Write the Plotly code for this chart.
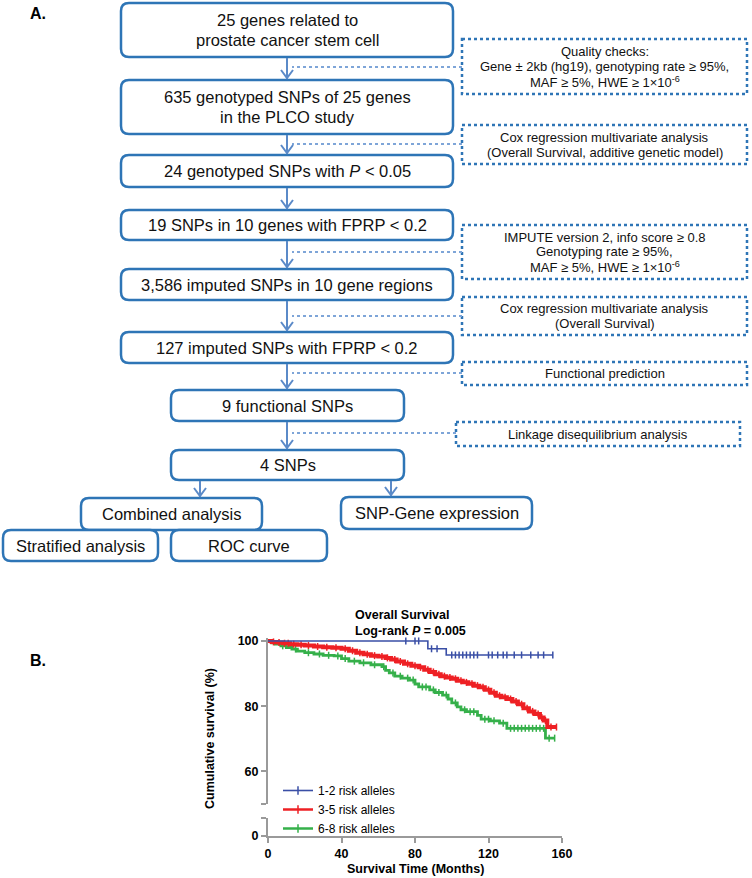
import plotly.graph_objects as go

# ---------------- DATA ----------------
box_labels = [
    "25 genes related to<br>prostate cancer stem cell",
    "635 genotyped SNPs of 25 genes<br>in the PLCO study",
    "24 genotyped SNPs with <i>P</i> < 0.05",
    "19 SNPs in 10 genes with FPRP < 0.2",
    "3,586 imputed SNPs in 10 gene regions",
    "127 imputed SNPs with FPRP < 0.2",
    "9 functional SNPs",
    "4 SNPs",
    "Combined analysis",
    "SNP-Gene expression",
    "Stratified analysis",
    "ROC curve",
]
filter_labels = [
    "Quality checks:<br>Gene ± 2kb (hg19), genotyping rate ≥ 95%,<br>MAF ≥ 5%, HWE ≥ 1×10<sup>-6</sup>",
    "Cox regression multivariate analysis<br>(Overall Survival, additive genetic model)",
    "IMPUTE version 2, info score ≥ 0.8<br>Genotyping rate ≥ 95%,<br>MAF ≥ 5%, HWE ≥ 1×10<sup>-6</sup>",
    "Cox regression multivariate analysis<br>(Overall Survival)",
    "Functional prediction",
    "Linkage disequilibrium analysis",
]

group_names = ["1-2 risk alleles", "3-5 risk alleles", "6-8 risk alleles"]

# Kaplan-Meier step events (months, survival %)
blue_time = [0, 87, 97]
blue_surv = [100, 97.6, 95.7]
blue_censor = [75, 80, 82, 89, 92, 100, 102, 104, 106, 108, 110, 112, 114,
               120, 122, 125, 128, 130, 134, 138, 143, 147, 150, 155]

red_time = [0, 2, 5, 8, 12, 16, 20, 25, 30, 35, 40, 44, 48, 52, 56, 60, 64, 67,
            70, 74, 78, 82, 85, 88, 91, 94, 97, 100, 103, 106, 109, 112, 115,
            118, 121, 124, 127, 130, 133, 136, 139, 142, 145, 148, 150, 152]
red_surv = [100, 99.7, 99.5, 99.3, 99.0, 98.8, 98.6, 98.3, 98.1, 97.9, 97.6,
            97.0, 96.4, 95.9, 95.5, 95.2, 94.8, 94.3, 93.7, 93.0, 92.4, 91.9,
            91.2, 90.5, 89.8, 89.2, 88.8, 88.4, 87.8, 87.3, 86.9, 86.3, 85.8,
            85.0, 84.1, 83.2, 82.7, 82.2, 81.4, 80.6, 79.4, 78.4, 77.6, 76.5,
            75.6, 73.6]
red_censor = [3, 6, 9, 11, 14, 18, 22, 27, 32, 37, 42, 46, 50, 54, 58, 62, 65,
              69, 72, 76, 80, 83, 87, 90, 93, 96, 99, 102, 105, 108, 111, 114,
              117, 120, 123, 126, 129, 132, 135, 138, 141, 144, 147, 149, 151,
              154, 157]

green_time = [0, 2, 4, 7, 10, 13, 16, 20, 25, 30, 36, 40, 44, 50, 56, 62, 64,
              66, 69, 73, 77, 80, 82, 88, 91, 95, 98, 100, 103, 105, 108, 114,
              116, 121, 126, 130, 151]
green_surv = [100, 99.4, 99.0, 98.5, 98.0, 97.5, 96.9, 96.4, 96.0, 95.6, 95.4,
              94.6, 93.8, 93.3, 92.7, 92.1, 91.0, 90.2, 89.2, 88.6, 88.0, 86.8,
              85.9, 85.0, 84.2, 83.4, 82.2, 81.0, 79.8, 78.9, 78.3, 77.2, 76.0,
              75.5, 74.8, 73.2, 70.2]
green_censor = [8, 15, 22, 28, 33, 38, 42, 47, 52, 58, 63, 68, 72, 76, 79, 84,
                86, 90, 93, 97, 102, 107, 110, 112, 118, 120, 123, 128, 132,
                134, 136, 138, 140, 142, 144, 146, 148, 150, 153, 156]

x_ticks = [0, 40, 80, 120, 160]
y_ticks = [60, 80, 100]

# ---------------- LAYOUT GEOMETRY (pixels) ----------------
W, H = 752, 878
def X(p): return p / W
def Y(p): return 1 - p / H

box_geom = [
    (121, 3, 453, 57), (121, 80, 453, 134), (121, 155, 453, 187),
    (121, 210, 453, 240), (121, 269, 453, 300), (121, 332, 453, 363),
    (171, 390, 404, 421), (171, 450, 404, 480), (81, 498, 262, 530),
    (341, 497, 532, 529), (3, 530, 158, 561), (171, 530, 327, 561),
]
filter_geom = [
    (462, 39, 747, 94), (462, 125, 747, 164), (462, 225, 747, 279),
    (462, 297, 747, 335), (462, 362, 747, 385), (456, 422, 740, 446),
]
connector_y = [67, 144, 252, 316, 373, 433]
arrow_geom = [
    (287, 57, 80), (287, 134, 155), (287, 187, 210), (287, 240, 269),
    (287, 300, 332), (287, 363, 390), (287, 421, 450),
    (200, 480, 498), (391, 480, 497),
]

BOX_C = "#2e75b6"
ARROW_C = "#5b8ac8"
CONN_C = "#7ea5d8"
FONT = "Arial, Liberation Sans, sans-serif"

shapes = []
annotations = []

def rrect(x0, y0, x1, y1, r=8):
    pts = [
        ("M", [(x0 + r, y0)]), ("L", [(x1 - r, y0)]), ("Q", [(x1, y0), (x1, y0 + r)]),
        ("L", [(x1, y1 - r)]), ("Q", [(x1, y1), (x1 - r, y1)]), ("L", [(x0 + r, y1)]),
        ("Q", [(x0, y1), (x0, y1 - r)]), ("L", [(x0, y0 + r)]), ("Q", [(x0, y0), (x0 + r, y0)]),
    ]
    s = ""
    for cmd, ps in pts:
        s += cmd + " " + " ".join(f"{X(px):.5f},{Y(py):.5f}" for px, py in ps) + " "
    return s + "Z"

def text_lines(label, cx, cy, size, spacing):
    lines = label.split("<br>")
    n = len(lines)
    for i, ln in enumerate(lines):
        yy = cy + (i - (n - 1) / 2) * spacing
        annotations.append(dict(x=X(cx), y=Y(yy), xref="paper", yref="paper",
                                text=ln, showarrow=False, xanchor="center", yanchor="middle",
                                font=dict(family=FONT, size=size, color="#111")))

for (x0, y0, x1, y1), lab in zip(box_geom, box_labels):
    shapes.append(dict(type="path", path=rrect(x0, y0, x1, y1), xref="paper", yref="paper",
                       line=dict(color=BOX_C, width=2.5), fillcolor="white"))
    text_lines(lab, (x0 + x1) / 2, (y0 + y1) / 2, 16.5, 20)

for (x0, y0, x1, y1), lab, cy in zip(filter_geom, filter_labels, connector_y):
    shapes.append(dict(type="rect", x0=X(x0), x1=X(x1), y0=Y(y0), y1=Y(y1),
                       xref="paper", yref="paper",
                       line=dict(color=BOX_C, width=2.5, dash="dot"), fillcolor="rgba(0,0,0,0)"))
    text_lines(lab, (x0 + x1) / 2, (y0 + y1) / 2, 13, 15)
    shapes.append(dict(type="line", x0=X(x0), x1=X(292), y0=Y(cy), y1=Y(cy),
                       xref="paper", yref="paper",
                       line=dict(color=CONN_C, width=2, dash="dot")))

for ax, ya, yb in arrow_geom:
    shapes.append(dict(type="line", x0=X(ax), x1=X(ax), y0=Y(ya + 1), y1=Y(yb - 1),
                       xref="paper", yref="paper", line=dict(color=ARROW_C, width=2)))
    shapes.append(dict(type="path", xref="paper", yref="paper",
                       path=f"M {X(ax-6):.5f},{Y(yb-10):.5f} L {X(ax):.5f},{Y(yb-2):.5f} L {X(ax+6):.5f},{Y(yb-10):.5f}",
                       line=dict(color=ARROW_C, width=2)))

annotations.append(dict(x=X(28), y=Y(14), xref="paper", yref="paper", text="<b>A.</b>",
                        showarrow=False, xanchor="left", yanchor="middle",
                        font=dict(family=FONT, size=16, color="#000")))
annotations.append(dict(x=X(28), y=Y(660), xref="paper", yref="paper", text="<b>B.</b>",
                        showarrow=False, xanchor="left", yanchor="middle",
                        font=dict(family=FONT, size=16, color="#000")))

# ---------------- KM PLOT ----------------
def step_at(times, survs, t):
    v = survs[0]
    for ti, si in zip(times, survs):
        if ti <= t:
            v = si
    return v

groups = [
    (group_names[0], blue_time, blue_surv, blue_censor, "#3a4fa6", 1.6),
    (group_names[1], red_time, red_surv, red_censor, "#ee2024", 4),
    (group_names[2], green_time, green_surv, green_censor, "#35b04a", 2.8),
]

fig = go.Figure()
for name, tt, ss, cc, col, lw in [groups[2], groups[1], groups[0]]:
    end = max(cc + tt)
    fig.add_trace(go.Scatter(x=tt + [end], y=ss + [ss[-1]], mode="lines",
                             line=dict(color=col, width=lw, shape="hv"),
                             showlegend=False, hoverinfo="skip", xaxis="x", yaxis="y"))
    fig.add_trace(go.Scatter(x=cc, y=[step_at(tt, ss, c) for c in cc], mode="markers",
                             marker=dict(symbol="line-ns", size=5,
                                         line=dict(color=col, width=1.5)),
                             showlegend=False, hoverinfo="skip", xaxis="x", yaxis="y",
                             cliponaxis=False))
for name, tt, ss, cc, col, lw in groups:
    fig.add_trace(go.Scatter(x=[None], y=[None], mode="lines+markers", name=name,
                             line=dict(color=col, width=min(lw, 2.5)),
                             marker=dict(symbol="line-ns", size=6, line=dict(color=col, width=1.5)),
                             xaxis="x", yaxis="y2"))

annotations.append(dict(x=X(353), y=Y(623), xref="paper", yref="paper",
                        text="<b>Overall Survival</b><br><b>Log-rank <i>P</i> = 0.005</b>",
                        showarrow=False, xanchor="left", yanchor="middle", align="left",
                        font=dict(family=FONT, size=12.5, color="#000")))
annotations.append(dict(x=X(210), y=Y(738), xref="paper", yref="paper",
                        text="<b>Cumulative survival (%)</b>", textangle=-90,
                        showarrow=False, xanchor="center", yanchor="middle",
                        font=dict(family=FONT, size=12.5, color="#000")))
annotations.append(dict(x=X(415), y=Y(869), xref="paper", yref="paper",
                        text="<b>Survival Time (Months)</b>",
                        showarrow=False, xanchor="center", yanchor="middle",
                        font=dict(family=FONT, size=12.5, color="#000")))

AX_C = "#9a9a9a"
common = dict(ticks="outside", ticklen=5, tickwidth=2, tickcolor=AX_C,
              showline=True, linecolor=AX_C, linewidth=2, showgrid=False, zeroline=False,
              automargin=False, tickfont=dict(size=12.5, color="#000"))
fig.update_layout(
    width=W, height=H, margin=dict(l=0, r=0, t=0, b=0, pad=0, autoexpand=False),
    paper_bgcolor="white", plot_bgcolor="white",
    font=dict(family=FONT, color="#000"),
    shapes=shapes, annotations=annotations,
    xaxis=dict(domain=[X(268), X(562)], range=[0, 160], anchor="y2",
               tickvals=x_ticks, ticktext=[f"<b>{v}</b>" for v in x_ticks], **common),
    yaxis=dict(domain=[Y(804), Y(637.7)], range=[50, 101], anchor="x",
               tickvals=[50] + y_ticks, ticktext=[""] + [f"<b>{v}</b>" for v in y_ticks],
               **common),
    yaxis2=dict(domain=[Y(836), Y(818)], range=[0, 5.5], anchor="x",
                tickvals=[0, 5.5], ticktext=["<b>0</b>", ""], **common),
    legend=dict(x=X(278), y=Y(776), xanchor="left", yanchor="top",
                bgcolor="rgba(0,0,0,0)", font=dict(size=12, color="#000"),
                tracegroupgap=0, itemwidth=30),
)

fig.write_html("out.html", config={"displayModeBar": False},
               post_script="document.body.style.margin='0px';")
